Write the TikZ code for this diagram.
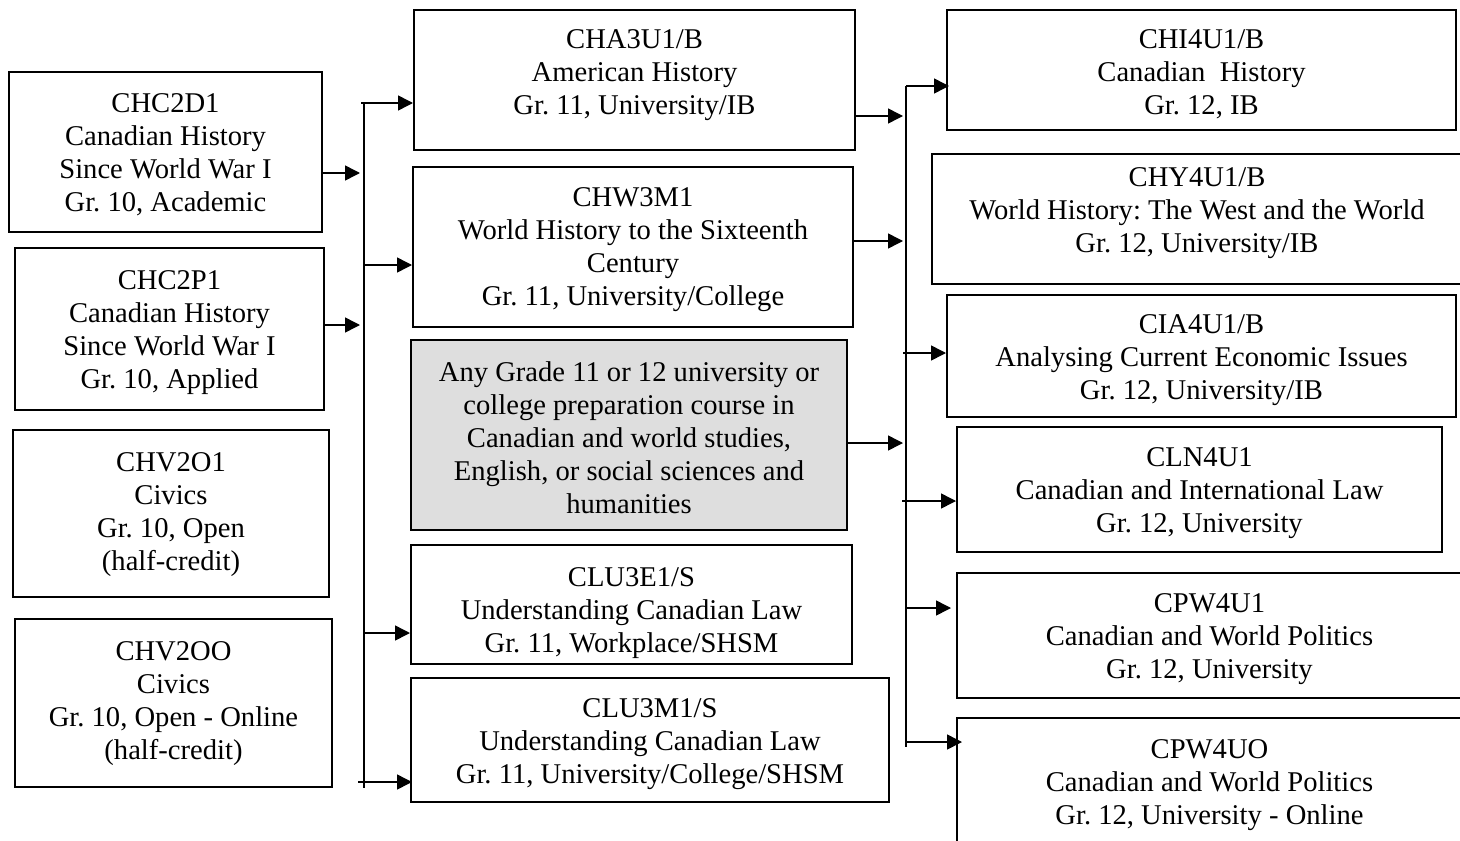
\documentclass[tikz,border=0pt]{standalone}
\usepackage{fontspec}
\setmainfont{Liberation Serif}
\usetikzlibrary{arrows.meta}
\frenchspacing
\newcommand\lines[2][-1.6pt]{\raisebox{#1}[\height][\depth]{\begin{tabular}{@{}c@{}}#2\end{tabular}}}
\begin{document}
\begin{tikzpicture}
[x=0.5pt,y=-0.5pt,
every node/.style={draw,line width=1pt,inner sep=0pt,font=\fontsize{14.3}{16.5}\selectfont},
course/.style 2 args={minimum width=#1*0.5pt,minimum height=#2*0.5pt},
anycourse/.style={fill=black!13},
arr/.style={line width=0.75pt,-{Triangle[length=7.5pt,width=7.5pt]}},
bus/.style={line width=0.75pt}]
\useasboundingbox (0,0) rectangle (1460,840);
\node[course={313}{160}] (chc2d1) at (165.5,152) {\lines{CHC2D1\\Canadian History\\Since World War I\\Gr. 10, Academic}};
\node[course={309}{162}] (chc2p1) at (169.5,329) {\lines{CHC2P1\\Canadian History\\Since World War I\\Gr. 10, Applied}};
\node[course={316}{167}] (chv2o1) at (171,513.5) {\lines[-0.6pt]{CHV2O1\\Civics\\Gr. 10, Open\\(half-credit)}};
\node[course={317}{168}] (chv2oo) at (173.5,703) {\lines[-0.4pt]{CHV2OO\\Civics\\Gr. 10, Open - Online\\(half-credit)}};
\node[course={441}{140}] (cha3u1) at (634.5,80) {\lines[2.4pt]{CHA3U1/B\\American History\\Gr. 11, University/IB}};
\node[course={440}{160}] (chw3m1) at (633,247) {\lines[-1.2pt]{CHW3M1\\World History to the Sixteenth\\Century\\Gr. 11, University/College}};
\node[course={436}{190},anycourse] (any) at (629,435) {\lines[-3.1pt]{Any Grade 11 or 12 university or\\college preparation course in\\Canadian and world studies,\\English, or social sciences and\\humanities}};
\node[course={441}{119}] (clu3e1) at (631.5,604.5) {\lines[-4.4pt]{CLU3E1/S\\Understanding Canadian Law\\Gr. 11, Workplace/SHSM}};
\node[course={478}{124}] (clu3m1) at (650,740) {\lines[-1.9pt]{CLU3M1/S\\Understanding Canadian Law\\Gr. 11, University/College/SHSM}};
\node[course={509}{120}] (chi4u1) at (1201.5,70) {\lines[-2.6pt]{CHI4U1/B\\Canadian\ \ History\\Gr. 12, IB}};
\node[course={530}{130}] (chy4u1) at (1197,219) {\lines[3.1pt]{CHY4U1/B\\World History: The West and the World\\Gr. 12, University/IB}};
\node[course={509}{122}] (cia4u1) at (1201.5,356) {\lines[-2.1pt]{CIA4U1/B\\Analysing Current Economic Issues\\Gr. 12, University/IB}};
\node[course={485}{125}] (cln4u1) at (1199.5,489.5) {\lines{CLN4U1\\Canadian and International Law\\Gr. 12, University}};
\node[course={505}{125}] (cpw4u1) at (1209.5,635.5) {\lines[-1.9pt]{CPW4U1\\Canadian and World Politics\\Gr. 12, University}};
\node[course={505}{132}] (cpw4uo) at (1209.5,784) {\lines[-0.4pt]{CPW4UO\\Canadian and World Politics\\Gr. 12, University - Online}};
\coordinate (b1top) at (364,103);
\coordinate (b1bot) at (364,788);
\coordinate (b2top) at (906,86);
\coordinate (b2bot) at (906,747);
\draw[bus] (b1top) -- (b1bot);
\draw[bus] (b2top) -- (b2bot);
\draw[arr,shorten >=2pt] (chc2d1.east |- 0,173) -- (b1top |- 0,173);
\draw[arr,shorten >=2pt] (chc2p1.east |- 0,325) -- (b1top |- 0,325);
\draw[arr] ([xshift=-1.5pt]b1top) -- (cha3u1.west |- b1top);
\draw[arr] (b1top |- 0,265) -- (chw3m1.west |- 0,265);
\draw[arr] (b1top |- 0,633) -- (clu3e1.west |- 0,633);
\draw[arr] ([xshift=-3pt]b1top |- 0,782) -- ([xshift=1pt]clu3m1.west |- 0,782);
\draw[arr,shorten >=1.5pt] (cha3u1.east |- 0,116) -- (b2top |- 0,116);
\draw[arr,shorten >=1.5pt] (chw3m1.east |- 0,241) -- (b2top |- 0,241);
\draw[arr,shorten >=1.5pt] (any.east |- 0,443) -- (b2top |- 0,443);
\draw[arr] (b2top) -- ([xshift=1.5pt]chi4u1.west |- b2top);
\draw[arr] ([xshift=-1.5pt]b2top |- 0,353) -- (cia4u1.west |- 0,353);
\draw[arr] ([xshift=-2pt]b2top |- 0,501) -- (cln4u1.west |- 0,501);
\draw[arr] (b2top |- 0,608) -- ([xshift=-2.5pt]cpw4u1.west |- 0,608);
\draw[arr] (b2top |- 0,742) -- ([xshift=3pt]cpw4uo.west |- 0,742);
\end{tikzpicture}
\end{document}
